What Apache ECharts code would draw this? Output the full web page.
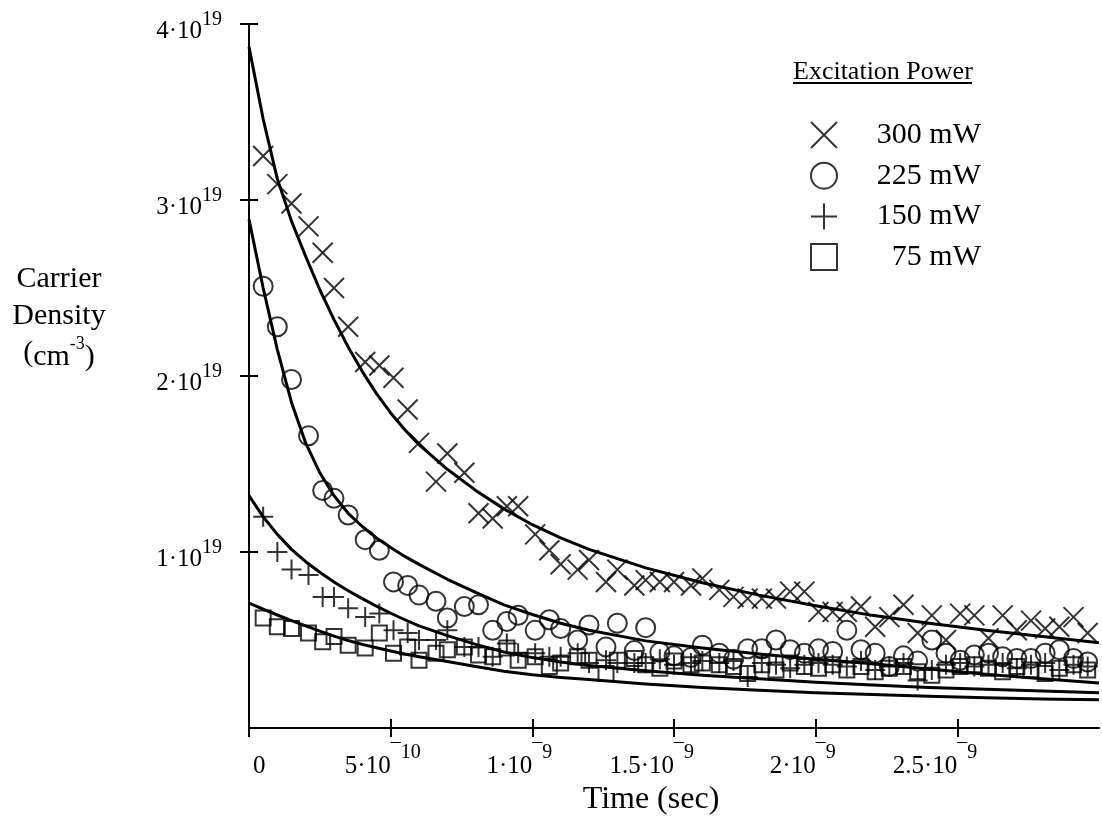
<!DOCTYPE html>
<html>
<head>
<meta charset="utf-8">
<script src="https://cdn.jsdelivr.net/npm/echarts@6/dist/echarts.min.js"></script>
<style>
  html, body { margin: 0; padding: 0; background: #fff; }
  #chart { width: 1102px; height: 823px; }
</style>
</head>
<body>
<div id="chart"></div>
<script>
// Time in ns (1e-9 s); carrier density in units of 1e18 cm^-3
const sampleTime = [0.05,0.10,0.15,0.21,0.26,0.30,0.35,0.41,0.46,0.51,0.56,0.60,0.66,0.70,0.76,0.81,0.86,0.91,0.95,1.01,1.06,1.10,1.16,1.20,1.26,1.30,1.36,1.40,1.45,1.50,1.56,1.60,1.66,1.71,1.76,1.81,1.86,1.91,1.96,2.01,2.06,2.11,2.16,2.21,2.26,2.31,2.36,2.41,2.46,2.51,2.56,2.61,2.66,2.71,2.76,2.81,2.86,2.91,2.96];
const data300 = [32.5,30.9,29.8,28.5,27.0,25.0,22.8,20.8,20.6,19.9,18.1,16.2,14.0,15.6,14.5,12.2,11.9,12.6,12.6,11.0,10.1,9.3,9.0,9.55,8.3,9.0,8.1,8.4,8.3,8.3,8.1,8.5,7.85,7.45,7.35,7.35,7.35,7.75,7.75,6.6,6.6,6.6,6.9,5.75,6.3,7.0,5.4,6.4,5.0,6.5,6.4,5.1,6.4,5.55,6.1,5.65,5.75,6.3,5.4];
const data225 = [25.1,22.8,19.8,16.6,13.5,13.05,12.1,10.7,10.1,8.3,8.1,7.55,7.2,6.25,6.9,7.0,5.55,6.05,6.4,5.55,6.15,5.65,5.0,5.85,4.6,5.95,4.4,5.7,4.3,4.1,4.0,4.7,4.25,3.9,4.5,4.5,5.0,4.45,4.25,4.5,4.35,5.55,4.45,4.25,3.5,4.1,3.8,5.0,4.25,3.85,4.15,4.25,4.05,3.95,3.95,4.25,4.45,3.95,3.75];
const data150 = [12.0,10.0,9.0,8.7,7.45,7.45,6.8,6.3,6.5,5.55,5.4,5.0,5.0,5.55,4.6,4.6,4.05,4.8,4.25,4.25,4.05,4.05,4.25,3.7,3.85,3.7,3.7,3.7,3.9,3.6,3.7,3.8,3.7,3.8,2.9,3.7,3.6,3.4,3.6,3.7,3.6,3.5,3.8,3.3,3.5,3.7,2.7,3.3,3.6,3.7,3.5,3.6,3.7,3.4,3.6,3.7,3.3,3.6,3.5];
const data75 = [6.25,5.75,5.65,5.4,4.9,5.2,4.7,4.55,5.4,4.25,4.6,3.85,4.25,4.45,4.6,4.15,4.05,4.55,3.85,4.05,3.5,3.7,4.05,3.85,3.1,3.85,3.95,3.6,3.4,3.8,3.6,3.7,3.6,3.5,3.1,3.6,3.3,3.7,3.5,3.4,3.6,3.3,3.5,3.2,3.4,3.5,3.2,3.0,3.3,3.5,3.6,3.4,3.2,3.5,3.3,3.1,3.4,3.6,3.3];

const fitTime = [0,0.05,0.1,0.15,0.2,0.25,0.3,0.35,0.4,0.45,0.5,0.55,0.6,0.7,0.8,0.9,1.0,1.1,1.2,1.4,1.6,1.8,2.0,2.2,2.4,2.6,2.8,3.0];
const fit300 = [38.7,34.6,31.2,28.8,26.8,24.9,23.2,21.65,20.25,19.0,17.9,16.95,16.1,14.7,13.5,12.45,11.55,10.8,10.15,9.1,8.25,7.55,6.95,6.4,5.95,5.55,5.2,4.85];
const fit225 = [28.9,25.0,21.5,18.5,16.2,14.5,13.2,12.2,11.45,10.8,10.25,9.75,9.3,8.45,7.7,7.0,6.45,5.95,5.55,4.95,4.55,4.2,3.9,3.65,3.35,3.05,2.8,2.55];
const fit150 = [13.2,12.0,11.0,10.15,9.45,8.85,8.3,7.8,7.35,6.92,6.52,6.15,5.8,5.25,4.75,4.32,4.0,3.75,3.55,3.25,3.0,2.8,2.6,2.45,2.3,2.2,2.1,2.0];
const fit75 = [7.1,6.75,6.42,6.1,5.8,5.5,5.22,4.97,4.75,4.56,4.38,4.2,4.05,3.78,3.5,3.23,3.02,2.87,2.75,2.5,2.3,2.15,2.0,1.9,1.8,1.72,1.65,1.6];

const seriesNames = ['300 mW','225 mW','150 mW','75 mW'];
const xTickValues = [0, 0.5, 1, 1.5, 2, 2.5];
const yTickValues = [10, 20, 30, 40];
const xTickMantissa = {0.5:'5', 1:'1', 1.5:'1.5', 2:'2', 2.5:'2.5'};
const xTickExponent = {0.5:'10', 1:'9', 1.5:'9', 2:'9', 2.5:'9'};
const yTickMantissa = {10:'1', 20:'2', 30:'3', 40:'4'};
const yTickExponent = '19';

const FONT = '"Liberation Serif", "Times New Roman", serif';
const symCross = 'path://M0 0L10 10M10 0L0 10';
const symPlus = 'path://M5 0L5 10M0 5L10 5';

function pairs(xs, ys) { return xs.map((x, i) => [x, ys[i]]); }

const chart = echarts.init(document.getElementById('chart'), null, {renderer: 'canvas'});

const scatterStyle = {color: 'rgba(0,0,0,0)', borderColor: '#000', borderWidth: 2};
function scatter(name, vals, symbol, size) {
  return {
    name, type: 'scatter', data: pairs(sampleTime, vals), symbol, symbolSize: size,
    itemStyle: scatterStyle, silent: true, z: 2
  };
}
function fit(vals) {
  return {
    type: 'line', data: pairs(fitTime, vals), showSymbol: false, smooth: false,
    lineStyle: {color: '#000', width: 3, join: 'round'}, silent: true, z: 3
  };
}

const option = {
  animation: false,
  backgroundColor: '#fff',
  textStyle: {fontFamily: FONT, color: '#000'},
  grid: {left: 249, right: 3, top: 24, bottom: 95, outerBoundsMode: 'none', containLabel: false},
  title: [
    {
      text: 'Carrier\nDensity\n({n|cm}{s|-3}{n|)}',
      left: 59, top: 261, padding: 0, textAlign: 'center',
      textStyle: {
        fontFamily: FONT, fontSize: 30, fontWeight: 'normal', color: '#000', lineHeight: 37,
        rich: {
          n: {fontFamily: FONT, fontSize: 30, color: '#000', lineHeight: 37, verticalAlign: 'bottom'},
          s: {fontFamily: FONT, fontSize: 18, color: '#000', verticalAlign: 'top', padding: [0,0,14,0]}
        }
      }
    },
    {
      text: 'Excitation Power', left: 793, top: 59, padding: 0,
      textStyle: {fontFamily: FONT, fontSize: 26, fontWeight: 'normal', color: '#000'}
    }
  ],
  graphic: [
    {type: 'line', shape: {x1: 793, y1: 83, x2: 972, y2: 83}, style: {stroke: '#000', lineWidth: 2}, silent: true}
  ],
  legend: {
    data: [
      {name: '300 mW', icon: symCross},
      {name: '225 mW', icon: 'circle'},
      {name: '150 mW', icon: symPlus},
      {name: '75 mW', icon: 'rect'}
    ],
    orient: 'vertical', left: 810, top: 120, padding: 0,
    itemWidth: 26, itemHeight: 26, itemGap: 10.7,
    itemStyle: {color: 'rgba(0,0,0,0)', borderColor: '#000', borderWidth: 2},
    selectedMode: false,
    formatter: n => '{t|' + n + '}',
    textStyle: {
      fontFamily: FONT, fontSize: 30, color: '#000',
      rich: {t: {fontFamily: FONT, fontSize: 30, color: '#000', width: 139, align: 'right', lineHeight: 26}}
    }
  },
  xAxis: [
    {
      type: 'value', min: 0, max: 3, interval: 0.5, position: 'bottom',
      name: 'Time (sec)', nameLocation: 'middle', nameGap: 55,
      nameTextStyle: {fontFamily: FONT, fontSize: 32, color: '#000', padding: [0, 46, 0, 0]},
      axisLine: {show: true, onZero: false, lineStyle: {color: '#000', width: 2}},
      axisTick: {show: true, inside: false, length: 9, customValues: xTickValues, lineStyle: {color: '#000', width: 2}},
      splitLine: {show: false},
      axisLabel: {
        show: true, margin: 26, align: 'right', customValues: xTickValues,
        formatter: v => xTickMantissa[v] ? '{m|' + xTickMantissa[v] + '·10}' : '',
        rich: {m: {fontFamily: FONT, fontSize: 25, color: '#000'}}
      }
    },
    {
      type: 'value', min: 0, max: 3, interval: 0.5, position: 'bottom', offset: 0,
      axisLine: {show: false},
      axisTick: {show: true, inside: true, length: 9, customValues: xTickValues, lineStyle: {color: '#000', width: 2}},
      splitLine: {show: false},
      axisLabel: {
        show: true, margin: 15, align: 'left', customValues: xTickValues,
        formatter: v => v === 0 ? '{z|0}' : (xTickExponent[v] ? '{s|\u00AF' + xTickExponent[v] + '}' : ''),
        rich: {
          s: {fontFamily: FONT, fontSize: 20, color: '#000'},
          z: {fontFamily: FONT, fontSize: 25, color: '#000', padding: [11, 0, 0, 4]}
        }
      }
    }
  ],
  yAxis: [
    {
      type: 'value', min: 0, max: 40, interval: 10, position: 'left',
      axisLine: {show: true, onZero: false, lineStyle: {color: '#000', width: 2}},
      axisTick: {show: true, inside: false, length: 9, customValues: yTickValues, lineStyle: {color: '#000', width: 2}},
      splitLine: {show: false},
      axisLabel: {
        show: true, margin: 27, padding: [6, 0, 0, 0], customValues: yTickValues,
        formatter: v => yTickMantissa[v] ? '{m|' + yTickMantissa[v] + '·10}{s|' + yTickExponent + '}' : '',
        rich: {
          m: {fontFamily: FONT, fontSize: 25, color: '#000', lineHeight: 25, verticalAlign: 'bottom'},
          s: {fontFamily: FONT, fontSize: 20, color: '#000', verticalAlign: 'top', padding: [0, 0, 14, 0]}
        }
      }
    },
    {
      type: 'value', min: 0, max: 40, interval: 10, position: 'left', offset: 0,
      axisLine: {show: false},
      axisTick: {show: true, inside: true, length: 9, customValues: yTickValues, lineStyle: {color: '#000', width: 2}},
      splitLine: {show: false},
      axisLabel: {show: false}
    }
  ],
  series: [
    scatter(seriesNames[0], data300, symCross, 20),
    scatter(seriesNames[1], data225, 'circle', 19),
    scatter(seriesNames[2], data150, symPlus, 20),
    scatter(seriesNames[3], data75, 'rect', 15),
    fit(fit300), fit(fit225), fit(fit150), fit(fit75)
  ]
};
chart.setOption(option);
</script>
</body>
</html>
